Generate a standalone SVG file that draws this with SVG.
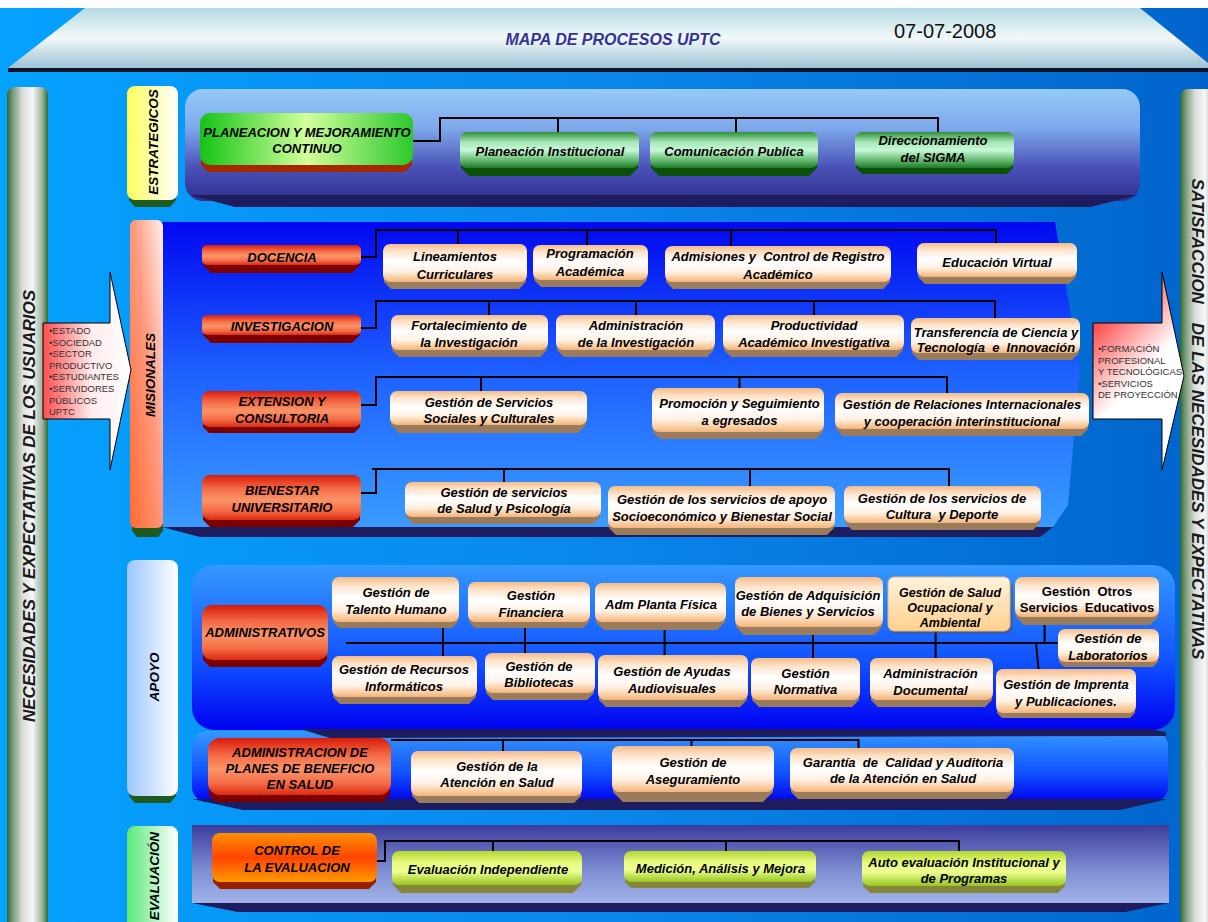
<svg xmlns="http://www.w3.org/2000/svg" width="1208" height="922" viewBox="0 0 1208 922">
<defs>
<linearGradient id="bg" x1="0" y1="0" x2="1" y2="0"><stop offset="0" stop-color="#05a2ff"/><stop offset="0.5" stop-color="#0a86ea"/><stop offset="1" stop-color="#0064cc"/></linearGradient>
<linearGradient id="banner" x1="0" y1="0" x2="0" y2="1"><stop offset="0" stop-color="#b4dae2"/><stop offset="0.5" stop-color="#f2f9f9"/><stop offset="1" stop-color="#9ec2d4"/></linearGradient>
<linearGradient id="sidebar" x1="0" y1="0" x2="1" y2="0"><stop offset="0" stop-color="#2d6a2d"/><stop offset="0.14" stop-color="#7a9b7a"/><stop offset="0.38" stop-color="#dadeda"/><stop offset="0.62" stop-color="#f7f7f7"/><stop offset="0.86" stop-color="#9db29d"/><stop offset="1" stop-color="#2d6a2d"/></linearGradient>
<linearGradient id="lblY" x1="0" y1="0" x2="1" y2="0"><stop offset="0" stop-color="#ffff5a"/><stop offset="1" stop-color="#ffffff"/></linearGradient>
<linearGradient id="lblM" x1="0" y1="1" x2="1" y2="0"><stop offset="0" stop-color="#ff6a30"/><stop offset="0.55" stop-color="#ff9a80"/><stop offset="1" stop-color="#fff0ec"/></linearGradient>
<linearGradient id="lblA" x1="0" y1="0" x2="1" y2="0"><stop offset="0" stop-color="#9cc6ff"/><stop offset="1" stop-color="#ffffff"/></linearGradient>
<linearGradient id="lblE" x1="0" y1="0" x2="1" y2="0"><stop offset="0" stop-color="#5ae87a"/><stop offset="1" stop-color="#ffffff"/></linearGradient>
<linearGradient id="pEst" x1="0" y1="0" x2="0" y2="1"><stop offset="0" stop-color="#96caf8"/><stop offset="0.35" stop-color="#7ea8ec"/><stop offset="0.7" stop-color="#4a52b6"/><stop offset="1" stop-color="#2f2f8e"/></linearGradient>
<linearGradient id="pMis" x1="0" y1="0" x2="0" y2="1"><stop offset="0" stop-color="#0008f0"/><stop offset="0.5" stop-color="#1e62ff"/><stop offset="1" stop-color="#3a9cff"/></linearGradient>
<linearGradient id="pApo" x1="0" y1="0" x2="0" y2="1"><stop offset="0" stop-color="#3598ff"/><stop offset="0.6" stop-color="#1050ff"/><stop offset="1" stop-color="#0000f0"/></linearGradient>
<linearGradient id="pEva" x1="0" y1="0" x2="0" y2="1"><stop offset="0" stop-color="#3c3c9c"/><stop offset="0.6" stop-color="#8090d4"/><stop offset="1" stop-color="#a2b2e8"/></linearGradient>
<linearGradient id="fPeach" x1="0" y1="0" x2="0" y2="1"><stop offset="0" stop-color="#f5bb86"/><stop offset="0.2" stop-color="#fde4cc"/><stop offset="0.45" stop-color="#ffffff"/><stop offset="0.72" stop-color="#fff2e6"/><stop offset="0.88" stop-color="#facfa4"/><stop offset="1" stop-color="#f3b47c"/></linearGradient>
<linearGradient id="fRed" x1="0" y1="0" x2="0" y2="1"><stop offset="0" stop-color="#d81a0a"/><stop offset="0.3" stop-color="#f46a46"/><stop offset="0.55" stop-color="#fb9468"/><stop offset="0.8" stop-color="#f46a45"/><stop offset="1" stop-color="#dc2a12"/></linearGradient>
<linearGradient id="fGreen" x1="0" y1="0" x2="0" y2="1"><stop offset="0" stop-color="#2f8f36"/><stop offset="0.28" stop-color="#a6e6b6"/><stop offset="0.5" stop-color="#c8f8d8"/><stop offset="0.75" stop-color="#70c27c"/><stop offset="1" stop-color="#1e7a26"/></linearGradient>
<linearGradient id="fPlan" x1="0" y1="0" x2="1" y2="0"><stop offset="0" stop-color="#14c414"/><stop offset="0.5" stop-color="#d2ff9c"/><stop offset="1" stop-color="#2cc82c"/></linearGradient>
<linearGradient id="fYG" x1="0" y1="0" x2="0" y2="1"><stop offset="0" stop-color="#b2d62c"/><stop offset="0.35" stop-color="#e8fa80"/><stop offset="0.6" stop-color="#eeff92"/><stop offset="1" stop-color="#96c61e"/></linearGradient>
<linearGradient id="fOrange" x1="0" y1="0" x2="0" y2="1"><stop offset="0" stop-color="#ff9200"/><stop offset="0.5" stop-color="#ff4400"/><stop offset="1" stop-color="#ff9c00"/></linearGradient>
<linearGradient id="fSalud" x1="0" y1="0" x2="0" y2="1"><stop offset="0" stop-color="#fff2dc"/><stop offset="1" stop-color="#ffd08e"/></linearGradient>
<linearGradient id="arrL" gradientUnits="userSpaceOnUse" x1="43" y1="0" x2="131" y2="0"><stop offset="0" stop-color="#ff4c4c"/><stop offset="0.55" stop-color="#ffecec"/><stop offset="1" stop-color="#ffffff"/></linearGradient>
<linearGradient id="arrR" gradientUnits="userSpaceOnUse" x1="1093" y1="323" x2="1145" y2="372"><stop offset="0" stop-color="#ff4444"/><stop offset="1" stop-color="#ffffff"/></linearGradient>
<style>
.t{font-family:"Liberation Sans",Arial,sans-serif;font-weight:bold;font-style:italic;font-size:13px;text-anchor:middle;fill:#000}
.up{font-style:normal}
.lbl{font-family:"Liberation Sans",Arial,sans-serif;font-weight:bold;font-style:italic;font-size:13.5px;text-anchor:middle;fill:#000}
.side{font-family:"Liberation Sans",Arial,sans-serif;font-weight:bold;font-style:italic;font-size:17px;text-anchor:middle;fill:#1a1a1a;white-space:pre}
.small{font-family:"Liberation Sans",Arial,sans-serif;font-size:9.5px;fill:#333}
.peach rect{fill:url(#fPeach)}
.peach polygon{fill:#9a7b5c}
.red rect{fill:url(#fRed)}
.red polygon{fill:#7c0000}
.green rect{fill:url(#fGreen)}
.green polygon{fill:#0a4f0a}
.yg rect{fill:url(#fYG)}
.yg polygon{fill:#86863a}
.shadow{fill:#1c1c5e}
#connectors path{stroke:#000;stroke-width:2;fill:none}
</style>
</defs>

<!-- background -->
<rect x="0" y="0" width="1208" height="922" fill="url(#bg)"/>
<rect x="0" y="0" width="1208" height="8" fill="#ffffff"/>

<!-- banner -->
<g id="banner">
<polygon points="8,68 85,8 1140,8 1208,63 1208,68" fill="url(#banner)"/>
<rect x="8" y="68" width="1200" height="4" fill="#0c1428"/>
<text x="613" y="45" style="font-family:'Liberation Sans',Arial,sans-serif;font-weight:bold;font-style:italic;font-size:16px;text-anchor:middle;fill:#333399">MAPA DE PROCESOS UPTC</text>
<text x="894" y="38" style="font-family:'Liberation Sans',Arial,sans-serif;font-size:20px;fill:#111">07-07-2008</text>
</g>

<!-- side bars -->
<g id="left-bar">
<rect x="7" y="87" width="41" height="850" rx="8" fill="url(#sidebar)"/>
<text class="side" transform="translate(35,506) rotate(-90)">NECESIDADES Y EXPECTATIVAS DE LOS USUARIOS</text>
</g>
<g id="right-bar">
<rect x="1180" y="89" width="40" height="850" rx="8" fill="url(#sidebar)"/>
<text class="side" transform="translate(1192,419) rotate(90)">SATISFACCION    DE LAS NECESIDADES Y EXPECTATIVAS</text>
</g>

<!-- panels -->
<g id="panel-estrategicos">
<rect x="185" y="89" width="955" height="112" rx="18" fill="url(#pEst)"/>
<polygon class="shadow" points="190,195 1138,195 1090,207 235,207"/>
</g>
<g id="panel-misionales">
<polygon points="162,222 1055,222 1080,368 1068,505 1053,527 162,527" fill="url(#pMis)"/>
<polygon class="shadow" points="162,527 1053,527 1040,537 200,537"/>
</g>
<g id="panel-apoyo">
<rect x="192" y="565" width="983" height="165" rx="22" fill="url(#pApo)"/>
</g>
<g id="panel-planes">
<rect x="192" y="731" width="976" height="71" rx="15" fill="url(#pApo)"/>
<polygon class="shadow" points="300,729 1150,729 1166,732 1166,736 330,738"/>
<polygon class="shadow" points="192,799 1168,799 1120,810 243,810"/>
</g>
<g id="panel-evaluacion">
<rect x="192" y="825" width="977" height="78" fill="url(#pEva)"/>
<polygon class="shadow" points="192,903 1169,903 1125,912 238,912"/>
</g>

<!-- section labels -->
<g id="lbl-estrategicos">
<polygon points="129,195 176,195 176,200 170,207 135,207 129,200" fill="#1e5a1e"/>
<rect x="127" y="86" width="51" height="114" rx="8" fill="url(#lblY)"/>
<text class="lbl" transform="translate(158,142) rotate(-90)">ESTRATEGICOS</text>
</g>
<g id="lbl-misionales">
<polygon points="132,524 163,524 163,531 158,537 137,537 132,531" fill="#1e5a1e"/>
<rect x="130" y="220" width="33" height="308" rx="6" fill="url(#lblM)"/>
<text class="lbl" transform="translate(155,375) rotate(-90)">MISIONALES</text>
</g>
<g id="lbl-apoyo">
<polygon points="129,790 176,790 176,796 170,803 135,803 129,796" fill="#1e5a1e"/>
<rect x="127" y="560" width="51" height="236" rx="8" fill="url(#lblA)"/>
<text class="lbl" transform="translate(159,677) rotate(-90)">APOYO</text>
</g>
<g id="lbl-evaluacion">
<rect x="127" y="826" width="51" height="110" rx="8" fill="url(#lblE)"/>
<text class="lbl" transform="translate(158.5,832) rotate(-90)" style="text-anchor:end">EVALUACIÓN</text>
</g>

<!-- input / output arrows -->
<g id="arrow-in">
<path d="M43,323 H110 V272 L131,370 L110,470 V419 H43 Z" fill="url(#arrL)" stroke="#000" stroke-width="1"/>
<text class="small" x="49" y="334">•ESTADO</text>
<text class="small" x="49" y="345.6">•SOCIEDAD</text>
<text class="small" x="49" y="357.2">•SECTOR</text>
<text class="small" x="49" y="368.8">PRODUCTIVO</text>
<text class="small" x="49" y="380.4">•ESTUDIANTES</text>
<text class="small" x="49" y="392">•SERVIDORES</text>
<text class="small" x="49" y="403.6">PÚBLICOS</text>
<text class="small" x="49" y="415.2">UPTC</text>
</g>
<g id="arrow-out">
<path d="M1093,323 H1162 V272 L1184,376 L1162,470 V419 H1093 Z" fill="url(#arrR)" stroke="#000" stroke-width="1"/>
<text class="small" x="1098" y="352">•FORMACIÓN</text>
<text class="small" x="1098" y="363.6">PROFESIONAL</text>
<text class="small" x="1098" y="375.2">Y TECNOLÓGICAS.</text>
<text class="small" x="1098" y="386.8">•SERVICIOS</text>
<text class="small" x="1098" y="398.4">DE PROYECCIÓN</text>
</g>

<!-- connectors -->
<g id="connectors">
<path d="M413,141 H440 V118 H938 V132 M558,118 V132 M736,118 V132"/>
<path d="M361,257 H376 V230 H996 V243 M458,230 V244 M587,230 V245 M731,230 V246"/>
<path d="M361,328 H376 V301 H995 V318 M489,301 V315 M636,301 V315 M814,301 V315"/>
<path d="M361,405 H376 V377 H947 V393 M481,377 V391 M739.5,377 V388"/>
<path d="M361,493 H376 V469 M372,469 H949 V486 M504,469 V482 M750,469 V486"/>
<path d="M346,643 H1058 M443,628 V656 M525,628 V653 M664.6,630 V655 M813,635 V658 M935.6,631 V658 M1044.6,625 V643 M1036,643 L1038.5,669"/>
<path d="M391,740 H858.5 V748 M503,740 V751 M691.5,740 V746"/>
<path d="M377,861 H385 V841 H959 V851 M493,841 V851 M726,841 V851"/>
</g>

<!-- ESTRATEGICOS nodes -->
<g id="n-planeacion-mejoramiento">
<polygon points="201,159 412,159 412,165 405,172 208,172 201,165" fill="#a52800"/>
<rect x="200" y="113" width="213" height="52" rx="10" fill="url(#fPlan)"/>
<text class="t" x="307" y="137">PLANEACION Y MEJORAMIENTO</text>
<text class="t" x="307" y="153">CONTINUO</text>
</g>
<g id="n-planeacion-institucional" class="green">
<polygon points="461,162 638,162 638,168 630,176 469,176 461,168"/>
<rect x="460" y="132" width="179" height="36" rx="7"/>
<text class="t" x="550" y="156">Planeación Institucional</text>
</g>
<g id="n-comunicacion-publica" class="green">
<polygon points="651,162 817,162 817,168 809,176 659,176 651,168"/>
<rect x="650" y="132" width="168" height="36" rx="7"/>
<text class="t" x="734" y="156">Comunicación Publica</text>
</g>
<g id="n-direccionamiento" class="green">
<polygon points="856,162 1013,162 1013,168 1007,174 862,174 856,168"/>
<rect x="855" y="132" width="159" height="36" rx="7"/>
<text class="t" x="933" y="145">Direccionamiento</text>
<text class="t" x="933" y="162">del SIGMA</text>
</g>

<!-- MISIONALES nodes -->
<g id="n-docencia" class="red">
<polygon points="203,259 360,259 360,265 352,273 211,273 203,265"/>
<rect x="202" y="245" width="159" height="20" rx="5"/>
<text class="t" x="282" y="261.5">DOCENCIA</text>
</g>
<g id="n-lineamientos" class="peach">
<polygon points="384,276 526,276 526,282 519,289 391,289 384,282"/>
<rect x="383" y="244" width="144" height="38" rx="7"/>
<text class="t" x="455" y="261">Lineamientos</text>
<text class="t" x="455" y="279">Curriculares</text>
</g>
<g id="n-programacion" class="peach">
<polygon points="534,274 647,274 647,280 640,287 541,287 534,280"/>
<rect x="533" y="245" width="115" height="35" rx="7"/>
<text class="t" x="590" y="258">Programación</text>
<text class="t" x="590" y="276">Académica</text>
</g>
<g id="n-admisiones" class="peach">
<polygon points="666,276 890,276 890,282 883,289 673,289 666,282"/>
<rect x="665" y="246" width="226" height="36" rx="7"/>
<text class="t" x="778" y="261" style="white-space:pre">Admisiones y  Control de Registro</text>
<text class="t" x="778" y="279">Académico</text>
</g>
<g id="n-educacion-virtual" class="peach">
<polygon points="918,271 1076,271 1076,277 1069,284 925,284 918,277"/>
<rect x="917" y="243" width="160" height="34" rx="7"/>
<text class="t" x="997" y="266.5">Educación Virtual</text>
</g>

<g id="n-investigacion" class="red">
<polygon points="203,329 360,329 360,335 352,343 211,343 203,335"/>
<rect x="202" y="315" width="159" height="20" rx="5"/>
<text class="t" x="282" y="331">INVESTIGACION</text>
</g>
<g id="n-fortalecimiento" class="peach">
<polygon points="392,344 547,344 547,350 540,357 399,357 392,350"/>
<rect x="391" y="315" width="157" height="35" rx="7"/>
<text class="t" x="469" y="330">Fortalecimiento de</text>
<text class="t" x="469" y="346.5">la Investigación</text>
</g>
<g id="n-administracion-inv" class="peach">
<polygon points="557,344 714,344 714,350 707,357 564,357 557,350"/>
<rect x="556" y="315" width="159" height="35" rx="7"/>
<text class="t" x="636" y="330">Administración</text>
<text class="t" x="636" y="346.5">de la Investigación</text>
</g>
<g id="n-productividad" class="peach">
<polygon points="724,344 903,344 903,350 896,357 731,357 724,350"/>
<rect x="723" y="315" width="181" height="35" rx="7"/>
<text class="t" x="814" y="330">Productividad</text>
<text class="t" x="814" y="346.5">Académico Investigativa</text>
</g>
<g id="n-transferencia" class="peach">
<polygon points="912,347 1079,347 1079,353 1072,360 919,360 912,353"/>
<rect x="911" y="318" width="169" height="35" rx="7"/>
<text class="t" x="996" y="336.5">Transferencia de Ciencia y</text>
<text class="t" x="996" y="352" style="white-space:pre">Tecnología  e  Innovación</text>
</g>

<g id="n-extension" class="red">
<polygon points="203,421 360,421 360,427 354,433 209,433 203,427"/>
<rect x="202" y="391" width="159" height="36" rx="7"/>
<text class="t" x="282" y="406">EXTENSION Y</text>
<text class="t" x="282" y="422.5">CONSULTORIA</text>
</g>
<g id="n-servicios-sociales" class="peach">
<polygon points="391,419 586,419 586,425 578,433 399,433 391,425"/>
<rect x="390" y="391" width="197" height="34" rx="7"/>
<text class="t" x="489" y="406.5">Gestión de Servicios</text>
<text class="t" x="489" y="422.5">Sociales y Culturales</text>
</g>
<g id="n-promocion" class="peach">
<polygon points="653,426 823,426 823,432 816,439 660,439 653,432"/>
<rect x="652" y="388" width="172" height="44" rx="7"/>
<text class="t" x="739.5" y="408">Promoción y Seguimiento</text>
<text class="t" x="739.5" y="425">a egresados</text>
</g>
<g id="n-relaciones" class="peach">
<polygon points="836,423 1088,423 1088,429 1081,436 843,436 836,429"/>
<rect x="835" y="393" width="254" height="36" rx="7"/>
<text class="t" x="962" y="409">Gestión de Relaciones Internacionales</text>
<text class="t" x="962" y="426">y cooperación interinstitucional</text>
</g>

<g id="n-bienestar" class="red">
<polygon points="203,514 360,514 360,520 353,527 210,527 203,520"/>
<rect x="202" y="475" width="159" height="45" rx="8"/>
<text class="t" x="282" y="495">BIENESTAR</text>
<text class="t" x="282" y="511.5">UNIVERSITARIO</text>
</g>
<g id="n-salud-psicologia" class="peach">
<polygon points="406,511 600,511 600,517 593,524 413,524 406,517"/>
<rect x="405" y="482" width="196" height="35" rx="7"/>
<text class="t" x="504" y="496.5">Gestión de servicios</text>
<text class="t" x="504" y="513">de Salud y Psicología</text>
</g>
<g id="n-socioeconomico" class="peach">
<polygon points="609,522 834,522 834,528 827,535 616,535 609,528"/>
<rect x="608" y="486" width="227" height="42" rx="7"/>
<text class="t" x="722" y="504">Gestión de los servicios de apoyo</text>
<text class="t" x="722" y="520.5">Socioeconómico y Bienestar Social</text>
</g>
<g id="n-cultura-deporte" class="peach">
<polygon points="845,517 1040,517 1040,523 1033,530 852,530 845,523"/>
<rect x="844" y="486" width="197" height="37" rx="7"/>
<text class="t" x="942" y="502.5">Gestión de los servicios de</text>
<text class="t" x="942" y="519" style="white-space:pre">Cultura  y Deporte</text>
</g>

<!-- APOYO nodes -->
<g id="n-administrativos" class="red">
<polygon points="203,654 327,654 327,660 320,667 210,667 203,660"/>
<rect x="202" y="605" width="126" height="55" rx="10"/>
<text class="t" x="265" y="637">ADMINISTRATIVOS</text>
</g>
<g id="n-talento-humano" class="peach">
<polygon points="333,616 458,616 458,622 452,628 339,628 333,622"/>
<rect x="332" y="577" width="127" height="45" rx="7"/>
<text class="t" x="396" y="596.5">Gestión de</text>
<text class="t" x="396" y="614">Talento Humano</text>
</g>
<g id="n-financiera" class="peach">
<polygon points="469,616 589,616 589,622 583,628 475,628 469,622"/>
<rect x="468" y="582" width="122" height="40" rx="7"/>
<text class="t" x="531" y="600">Gestión</text>
<text class="t" x="531" y="616.5">Financiera</text>
</g>
<g id="n-planta-fisica" class="peach">
<polygon points="596,616 725,616 725,622 717,630 604,630 596,622"/>
<rect x="595" y="583" width="131" height="39" rx="7"/>
<text class="t" x="661" y="609">Adm Planta Física</text>
</g>
<g id="n-adquisicion" class="peach">
<polygon points="736,621 882,621 882,627 874,635 744,635 736,627"/>
<rect x="735" y="577" width="148" height="50" rx="7"/>
<text class="t" x="808" y="599.5">Gestión de Adquisición</text>
<text class="t" x="808" y="616">de Bienes y Servicios</text>
</g>
<g id="n-salud-ocupacional">
<rect x="891" y="580" width="122" height="54" rx="6" fill="#505070" opacity="0.55"/>
<rect x="888" y="577" width="122" height="54" rx="6" fill="url(#fSalud)" stroke="#e0b878" stroke-width="1"/>
<text class="t" x="950" y="596.5" style="font-size:12.5px">Gestión de Salud</text>
<text class="t" x="950" y="612" style="font-size:12.5px">Ocupacional y</text>
<text class="t" x="950" y="627" style="font-size:12.5px">Ambiental</text>
</g>
<g id="n-otros-servicios" class="peach">
<polygon points="1016,611 1158,611 1158,617 1150,625 1024,625 1016,617"/>
<rect x="1015" y="577" width="144" height="40" rx="7"/>
<text class="t up" x="1087" y="596" style="white-space:pre">Gestión  Otros</text>
<text class="t up" x="1087" y="611.5" style="white-space:pre">Servicios  Educativos</text>
</g>
<g id="n-laboratorios" class="peach">
<polygon points="1059,656 1158,656 1158,662 1153,667 1064,667 1059,662"/>
<rect x="1058" y="629" width="101" height="33" rx="7"/>
<text class="t" x="1108" y="643">Gestión de</text>
<text class="t" x="1108" y="660">Laboratorios</text>
</g>
<g id="n-recursos-informaticos" class="peach">
<polygon points="333,691 476,691 476,697 469,704 340,704 333,697"/>
<rect x="332" y="656" width="145" height="41" rx="7"/>
<text class="t" x="404" y="674">Gestión de Recursos</text>
<text class="t" x="404" y="690.5">Informáticos</text>
</g>
<g id="n-bibliotecas" class="peach">
<polygon points="486,687 594,687 594,693 587,700 493,700 486,693"/>
<rect x="485" y="653" width="110" height="40" rx="7"/>
<text class="t" x="539" y="670.5">Gestión de</text>
<text class="t" x="539" y="687">Bibliotecas</text>
</g>
<g id="n-ayudas-audiovisuales" class="peach">
<polygon points="599,694 747,694 747,700 740,707 606,707 599,700"/>
<rect x="598" y="655" width="150" height="45" rx="7"/>
<text class="t" x="672" y="676">Gestión de Ayudas</text>
<text class="t" x="672" y="692.5">Audiovisuales</text>
</g>
<g id="n-normativa" class="peach">
<polygon points="752,694 859,694 859,700 852,707 759,707 752,700"/>
<rect x="751" y="658" width="109" height="42" rx="7"/>
<text class="t" x="805.5" y="678">Gestión</text>
<text class="t" x="805.5" y="694">Normativa</text>
</g>
<g id="n-documental" class="peach">
<polygon points="871,694 992,694 992,700 985,707 878,707 871,700"/>
<rect x="870" y="658" width="123" height="42" rx="7"/>
<text class="t" x="930.5" y="678">Administración</text>
<text class="t" x="930.5" y="695">Documental</text>
</g>
<g id="n-imprenta" class="peach">
<polygon points="997,707 1135,707 1135,713 1130,718 1002,718 997,713"/>
<rect x="996" y="669" width="140" height="44" rx="7"/>
<text class="t" x="1066" y="689">Gestión de Imprenta</text>
<text class="t" x="1066" y="706">y Publicaciones.</text>
</g>

<!-- Planes de beneficio -->
<g id="n-admin-planes" class="red">
<polygon points="209,789 390,789 390,795 383,802 216,802 209,795"/>
<rect x="208" y="738" width="183" height="57" rx="12"/>
<text class="t" x="300" y="756.5">ADMINISTRACION DE</text>
<text class="t" x="300" y="773">PLANES DE BENEFICIO</text>
<text class="t" x="300" y="789">EN SALUD</text>
</g>
<g id="n-atencion-salud" class="peach">
<polygon points="412,790 581,790 581,796 574,803 419,803 412,796"/>
<rect x="411" y="751" width="171" height="45" rx="7"/>
<text class="t" x="497" y="770.5">Gestión de la</text>
<text class="t" x="497" y="787">Atención en Salud</text>
</g>
<g id="n-aseguramiento" class="peach">
<polygon points="613,786 773,786 773,792 763,802 623,802 613,792"/>
<rect x="612" y="746" width="162" height="46" rx="7"/>
<text class="t" x="693" y="767">Gestión de</text>
<text class="t" x="693" y="783.5">Aseguramiento</text>
</g>
<g id="n-garantia" class="peach">
<polygon points="791,786 1013,786 1013,792 1006,799 798,799 791,792"/>
<rect x="790" y="748" width="224" height="44" rx="7"/>
<text class="t" x="903" y="767" style="white-space:pre">Garantía  de  Calidad y Auditoria</text>
<text class="t" x="903" y="783">de la Atención en Salud</text>
</g>

<!-- EVALUACION nodes -->
<g id="n-control-evaluacion">
<polygon points="213,876 376,876 376,882 369,889 220,889 213,882" fill="#962000"/>
<rect x="212" y="833" width="165" height="49" rx="8" fill="url(#fOrange)"/>
<text class="t" x="297" y="855">CONTROL DE</text>
<text class="t" x="297" y="871.5">LA EVALUACION</text>
</g>
<g id="n-evaluacion-independiente" class="yg">
<polygon points="393,879 581,879 581,885 573,893 401,893 393,885"/>
<rect x="392" y="851" width="190" height="34" rx="7"/>
<text class="t" x="488" y="874">Evaluación Independiente</text>
</g>
<g id="n-medicion" class="yg">
<polygon points="625,876 815,876 815,882 809,888 631,888 625,882"/>
<rect x="624" y="851" width="192" height="31" rx="7"/>
<text class="t" x="720.5" y="873">Medición, Análisis y Mejora</text>
</g>
<g id="n-autoevaluacion" class="yg">
<polygon points="863,880 1065,880 1065,886 1058,893 870,893 863,886"/>
<rect x="862" y="851" width="204" height="35" rx="7"/>
<text class="t" x="964" y="866.5">Auto evaluación Institucional y</text>
<text class="t" x="964" y="883">de Programas</text>
</g>
</svg>
